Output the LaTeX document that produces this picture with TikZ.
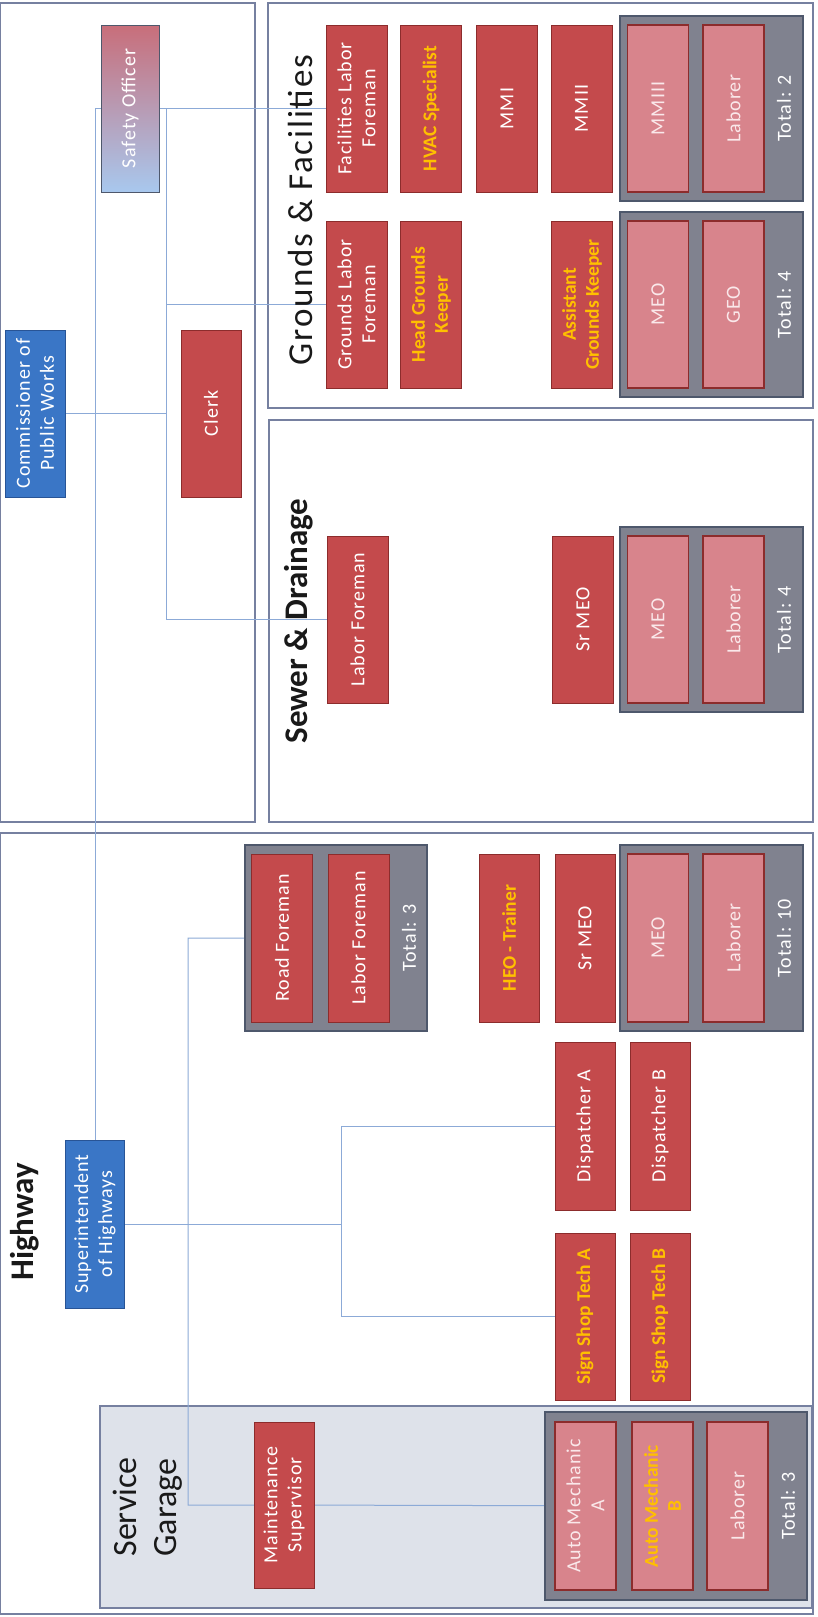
\documentclass[tikz,border=0pt]{standalone}
\usepackage{fontspec}
\setmainfont{Carlito}
\newfontfamily\spaced{Carlito}[LetterSpace=5]
\usetikzlibrary{calc}
\definecolor{redf}{RGB}{196,74,76}
\definecolor{redd}{RGB}{140,44,44}
\definecolor{pinkf}{RGB}{216,132,140}
\definecolor{pinkt}{RGB}{250,232,234}
\definecolor{grayf}{RGB}{128,130,143}
\definecolor{grayd}{RGB}{78,88,108}
\definecolor{bluef}{RGB}{58,118,198}
\definecolor{blued}{RGB}{40,84,150}
\definecolor{yel}{RGB}{255,192,0}
\definecolor{connc}{RGB}{140,170,215}
\definecolor{panelc}{RGB}{118,128,160}
\definecolor{sgfill}{RGB}{222,226,234}
\definecolor{sred}{RGB}{200,110,122}
\definecolor{sblue}{RGB}{168,200,238}
\definecolor{ink}{RGB}{25,25,25}
\pgfdeclarelayer{bg}
\pgfdeclarelayer{mid}
\pgfsetlayers{bg,mid,main}
\tikzset{
  box/.style={rectangle, rotate=90, inner sep=1pt, align=center,
    font=\spaced\fontsize{20}{24}\selectfont, minimum width=167pt, minimum height=61pt, line width=1pt},
  rbox/.style={box, fill=redf, draw=redd, text=white},
  ybox/.style={rbox, text=yel, font=\bfseries\fontsize{19.5}{23}\selectfont},
  pbox/.style={box, fill=pinkf, draw=redd, line width=1.4pt, text=pinkt},
  ypbox/.style={pbox, text=yel, font=\bfseries\fontsize{19.5}{23}\selectfont},
  bbox/.style={box, fill=bluef, draw=blued, text=white},
  sbox/.style={box, top color=sred, bottom color=sblue, draw=grayd, text=white},
  grp/.style={rectangle, fill=grayf, draw=grayd, line width=2pt, inner sep=0pt},
  tot/.style={rotate=90, text=white, font=\spaced\fontsize{20}{24}\selectfont, inner sep=0pt},
  conn/.style={draw=connc, line width=1pt},
  panel/.style={draw=panelc, line width=1.2pt},
  title/.style={rotate=90, text=ink, font=\bfseries\fontsize{33}{38}\selectfont, inner sep=0pt},
}
\begin{document}
\begin{tikzpicture}[x=1pt,y=-1pt]
\useasboundingbox (0,0) rectangle (817,1617);
\begin{pgfonlayer}{bg}
  \fill[white] (0,0) rectangle (817,1617);
  \draw[panel] (0.6,3) rectangle (255,822);
  \draw[panel] (268,3) rectangle (813,408);
  \draw[panel] (269,420) rectangle (813,822);
  \draw[panel] (0.6,833) rectangle (813,1614);
  \draw[panel, fill=sgfill] (100,1406) rectangle (812,1608);
\end{pgfonlayer}

% executive
\node[bbox, minimum height=60pt] (comm) at (35,413.5) {Commissioner of\\Public Works};
\node[sbox, minimum height=58pt] (safety) at (130,108.5) {Safety Officer};
\node[rbox, minimum height=60pt] (clerk) at (211,413.5) {Clerk};
\node[bbox, minimum height=59pt, minimum width=168pt] (super) at (95,1224) {Superintendent\\of Highways};
\node[title] (thwy) at (25,1222) {Highway};

% Grounds & Facilities
\node[title, font=\spaced\fontsize{35}{40}\selectfont] (tgf) at (300,210) {Grounds \& Facilities};
\node[grp, minimum width=183pt, minimum height=185pt] (g1) at (711.5,108.5) {};
\node[grp, minimum width=183pt, minimum height=185pt] (g2) at (711.5,304.5) {};
\node[rbox] (flf) at (356.5,108.5) {Facilities Labor\\Foreman};
\node[ybox] (hvac) at (431,108.5) {HVAC Specialist};
\node[rbox] (mmi) at (507,108.5) {MMI};
\node[rbox] (mmii) at (581.5,108.5) {MMII};
\node[pbox] (mmiii) at (658,108.5) {MMIII};
\node[pbox] (lab1) at (733.5,108.5) {Laborer};
\node[tot] (tot1) at (784,108.5) {Total: 2};
\node[rbox] (glf) at (356.5,304.5) {Grounds Labor\\Foreman};
\node[ybox] (hgk) at (431,304.5) {Head Grounds\\Keeper};
\node[ybox] (agk) at (582,304.5) {Assistant\\Grounds Keeper};
\node[pbox] (meo1) at (658,304.5) {MEO};
\node[pbox] (geo) at (733.5,304.5) {GEO};
\node[tot] (tot2) at (784,304.5) {Total: 4};

% Sewer & Drainage
\node[title] (tsd) at (299,621) {Sewer \& Drainage};
\node[grp, minimum width=183pt, minimum height=185pt] (g3) at (711.5,619.5) {};
\node[rbox] (slf) at (357.5,619.5) {Labor Foreman};
\node[rbox] (ssr) at (583,619.5) {Sr MEO};
\node[pbox] (smeo) at (658,619.5) {MEO};
\node[pbox] (slab) at (733.5,619.5) {Laborer};
\node[tot] (tot3) at (784,619.5) {Total: 4};

% Highway
\node[grp, minimum width=182pt, minimum height=186pt] (g4) at (336,938) {};
\node[grp, minimum width=183pt, minimum height=186pt] (g5) at (711.5,938) {};
\node[rbox, minimum width=168pt] (rf) at (282,938) {Road Foreman};
\node[rbox, minimum width=168pt] (hlf) at (358.5,938) {Labor Foreman};
\node[tot] (tot4) at (409,938) {Total: 3};
\node[ybox, minimum width=168pt, minimum height=60pt] (heo) at (509,938) {HEO - Trainer};
\node[rbox, minimum width=168pt, minimum height=60pt] (hsr) at (585,938) {Sr MEO};
\node[pbox, minimum width=168pt] (hmeo) at (658,938) {MEO};
\node[pbox, minimum width=168pt] (hlab) at (733.5,938) {Laborer};
\node[tot] (tot5) at (784,938) {Total: 10};
\node[rbox, minimum width=168pt, minimum height=60pt] (dispA) at (585,1126) {Dispatcher A};
\node[rbox, minimum width=168pt, minimum height=60pt] (dispB) at (660,1126) {Dispatcher B};
\node[ybox, minimum width=167pt, minimum height=60pt] (sstA) at (585,1316.5) {Sign Shop Tech A};
\node[ybox, minimum width=167pt, minimum height=60pt] (sstB) at (660,1316.5) {Sign Shop Tech B};

% Service Garage
\node[rotate=90, text=ink, font=\fontsize{34}{40}\selectfont, align=left, inner sep=0pt] (tsg) at (148,1507) {Service\\Garage};
\node[grp, minimum width=262pt, minimum height=188pt] (g6) at (676,1506) {};
\node[rbox, minimum width=166pt, minimum height=60pt] (maint) at (284,1505) {Maintenance\\Supervisor};
\node[pbox, minimum width=168pt] (amA) at (585.5,1506) {Auto Mechanic\\A};
\node[ypbox, minimum width=168pt] (amB) at (662.5,1506) {Auto Mechanic\\B};
\node[pbox, minimum width=168pt] (lab3) at (737.5,1506) {Laborer};
\node[tot] (tot6) at (788,1506) {Total: 3};

% connectors
\begin{pgfonlayer}{mid}
  \coordinate (jA) at (95,108.5);
  \coordinate (jB) at (166,108.5);
  \coordinate (jD) at (341,1224);
  \coordinate (jE) at (188,1224);
  \draw[conn] (flf.center) -- (jA) -- (super.center);
  \draw[conn] (jB) -- (jB |- slf.center) -- (slf.center);
  \draw[conn] (comm.center) -- (comm.center -| jB);
  \draw[conn] (glf.center) -- (glf.center -| jB);
  \draw[conn] (super.center) -- (jD);
  \draw[conn] (dispA.center) -- (dispA.center -| jD) -- (sstA.center -| jD) -- (sstA.center);
  \draw[conn] (g4.center) -- (g4.center -| jE) -- (maint.center -| jE) -- (maint.center) -- (g6.center);
\end{pgfonlayer}
\end{tikzpicture}
\end{document}
